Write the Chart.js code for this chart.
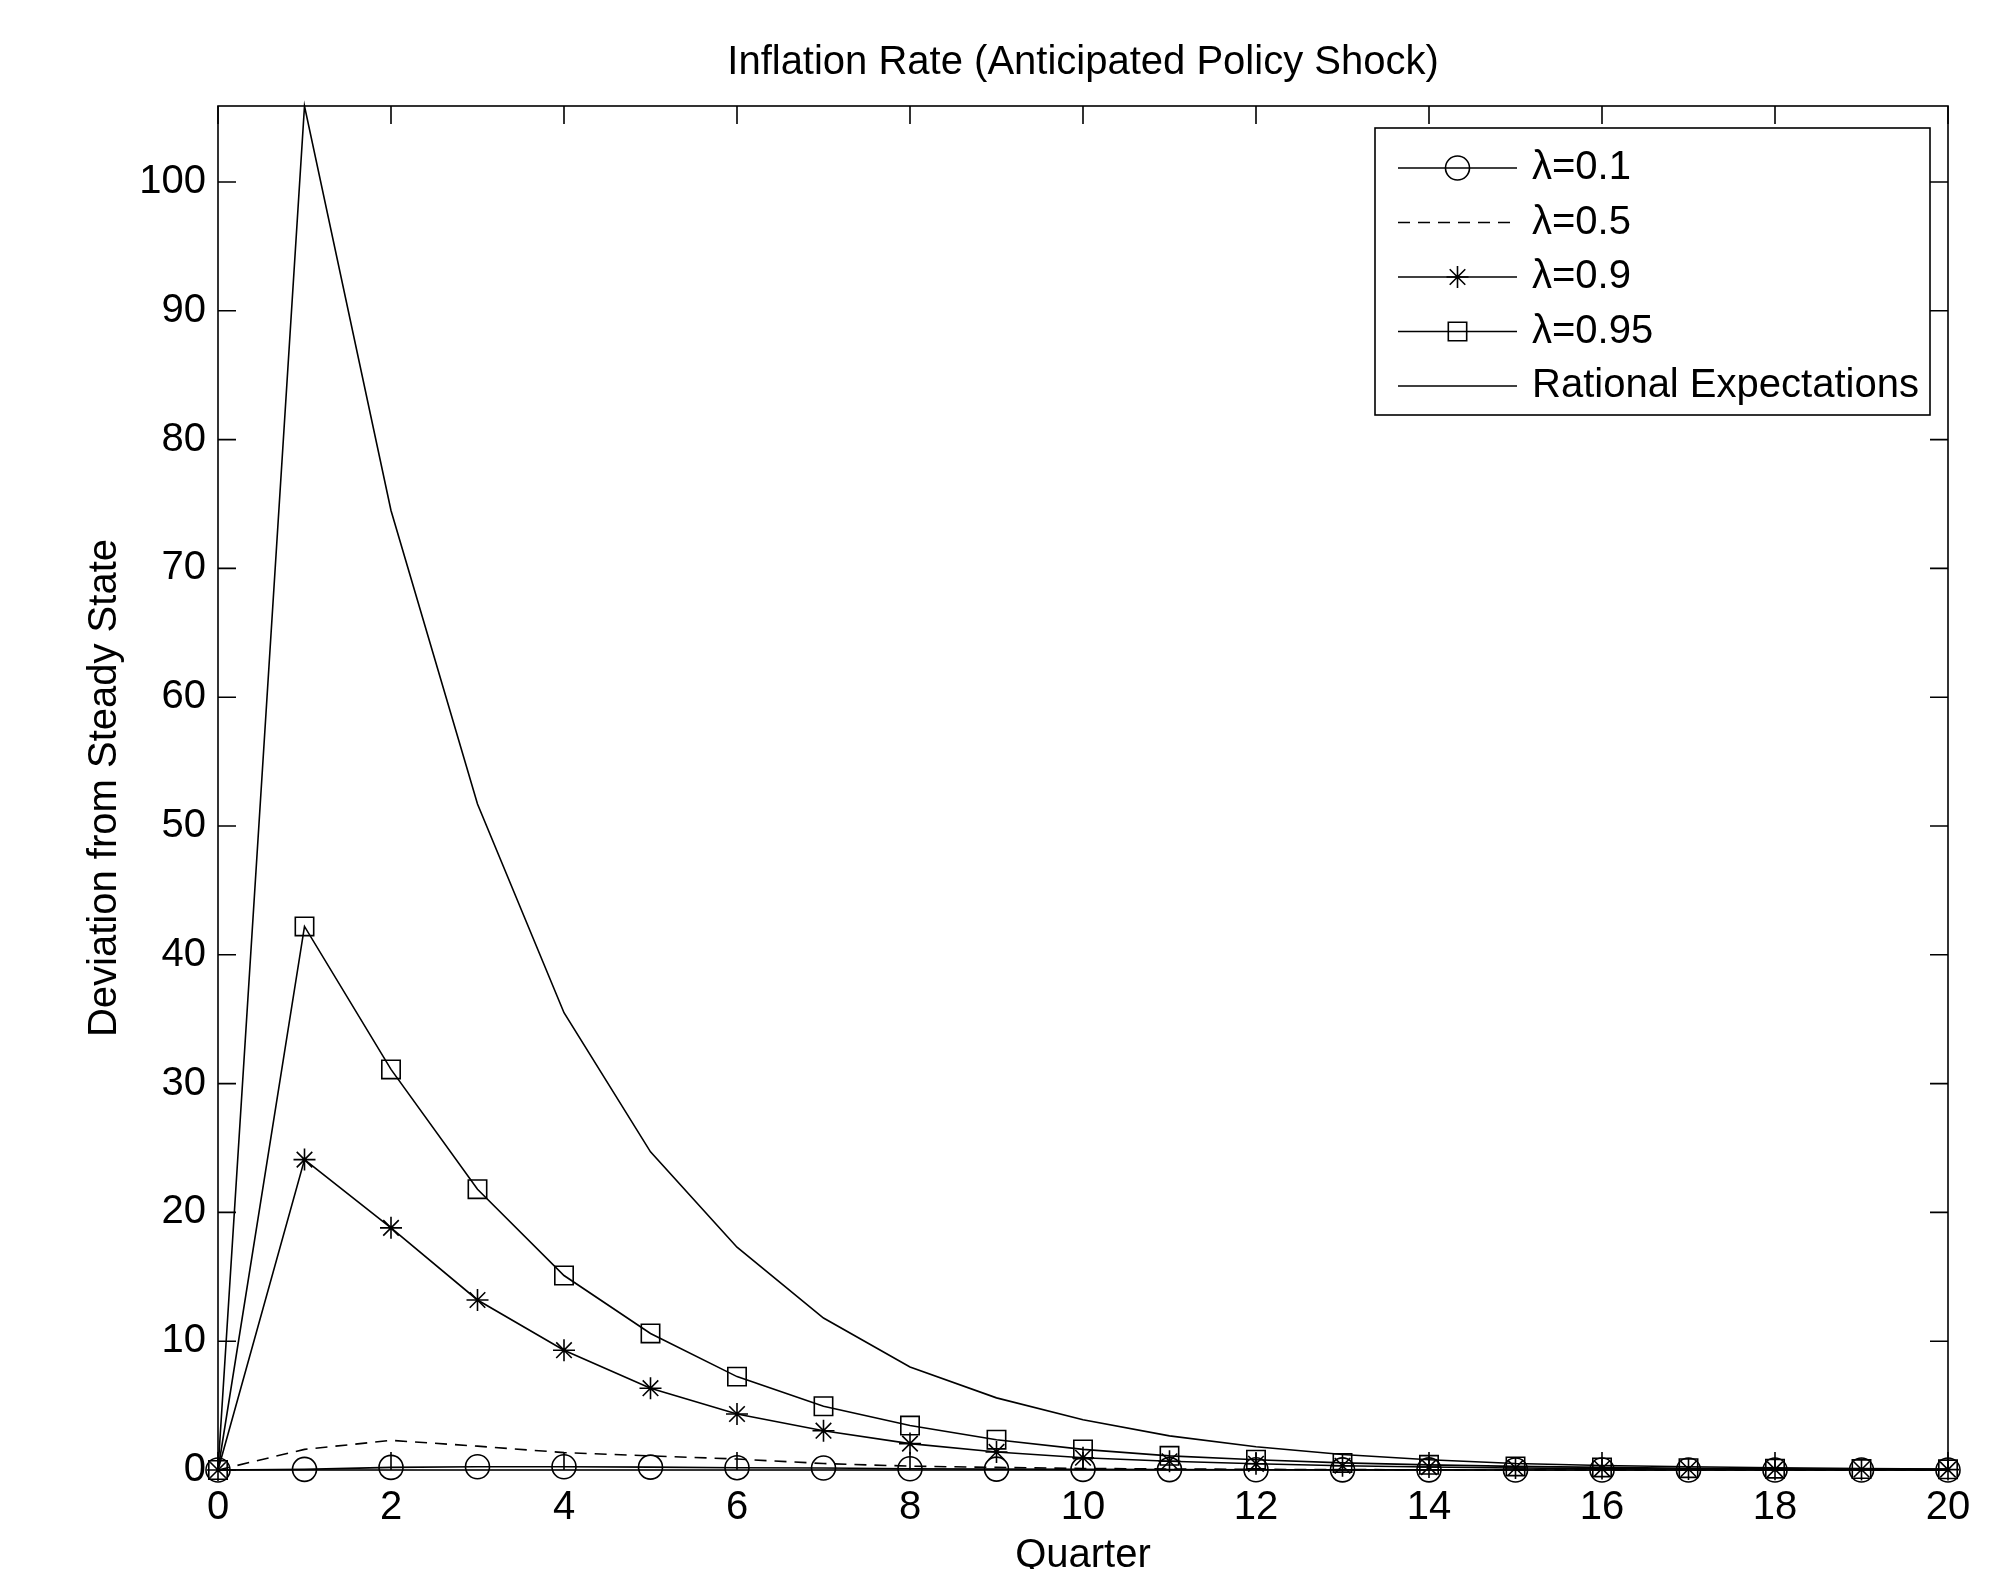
<!DOCTYPE html>
<html>
<head>
<meta charset="utf-8">
<title>Inflation Rate (Anticipated Policy Shock)</title>
<script src="https://cdn.jsdelivr.net/npm/chart.js@4.4.1/dist/chart.umd.min.js"></script>
<style>
    html, body { margin: 0; padding: 0; background: #fff; }
    #chart { display: block; }
</style>
</head>
<body>
<canvas id="chart" width="2002" height="1569"></canvas>
<script>
// quarters after the shock
const quarters = [0, 1, 2, 3, 4, 5, 6, 7, 8, 9, 10, 11, 12, 13, 14, 15, 16, 17, 18, 19, 20];

// deviation from steady state
const lambda01 = [0, 0.05, 0.2, 0.25, 0.25, 0.22, 0.18, 0.15, 0.1, 0.07, 0.05, 0.03, 0.02, 0.01, 0.01, 0, 0, 0, 0, 0, 0];
const lambda05 = [0, 1.6, 2.3, 1.85, 1.35, 1.1, 0.85, 0.5, 0.3, 0.2, 0.12, 0.08, 0.05, 0.03, 0.02, 0.01, 0.01, 0, 0, 0, 0];
const lambda09 = [0, 24.1, 18.8, 13.2, 9.3, 6.35, 4.35, 3.05, 2.05, 1.4, 0.95, 0.68, 0.48, 0.33, 0.23, 0.16, 0.11, 0.08, 0.05, 0.04, 0.03];
const lambda095 = [0, 42.2, 31.1, 21.8, 15.1, 10.6, 7.25, 4.95, 3.45, 2.35, 1.6, 1.1, 0.8, 0.55, 0.4, 0.28, 0.2, 0.14, 0.1, 0.07, 0.05];
const rationalExp = [0, 105.9, 74.5, 51.7, 35.5, 24.7, 17.3, 11.8, 8.0, 5.6, 3.9, 2.65, 1.8, 1.2, 0.8, 0.5, 0.35, 0.25, 0.17, 0.12, 0.08];

const seriesLabels = ['\u03bb=0.1', '\u03bb=0.5', '\u03bb=0.9', '\u03bb=0.95', 'Rational Expectations'];
const xTicks = { min: 0, max: 20, step: 2 };
const yTicks = { min: 0, step: 10 };

const FONT = "'Liberation Sans', Arial, Helvetica, sans-serif";
const FONT_SIZE = 40;

Chart.defaults.font.family = FONT;
Chart.defaults.color = '#000';

function toPoints(values) {
    return quarters.map((q, i) => ({ x: q, y: values[i] }));
}

function lineDataset(label, values, extra) {
    return Object.assign({
        label: label,
        data: toPoints(values),
        borderColor: '#000',
        borderWidth: 1.6,
        backgroundColor: 'rgba(0,0,0,0)',
        pointBackgroundColor: 'rgba(0,0,0,0)',
        pointBorderColor: '#000',
        pointBorderWidth: 1.6,
        pointRadius: 0,
        pointHoverRadius: 0,
        tension: 0,
        fill: false,
        clip: false
    }, extra);
}

// box round the axes with inward ticks on all four sides (MATLAB style)
const axesBox = {
    id: 'axesBox',
    afterDatasetsDraw(chart) {
        const { ctx, chartArea: a, scales } = chart;
        const len = 18;
        ctx.save();
        ctx.strokeStyle = '#000';
        ctx.lineWidth = 1.6;
        ctx.strokeRect(a.left, a.top, a.right - a.left, a.bottom - a.top);
        ctx.beginPath();
        scales.x.ticks.forEach(t => {
            const px = scales.x.getPixelForValue(t.value);
            ctx.moveTo(px, a.bottom); ctx.lineTo(px, a.bottom - len);
            ctx.moveTo(px, a.top); ctx.lineTo(px, a.top + len);
        });
        scales.y.ticks.forEach(t => {
            const py = scales.y.getPixelForValue(t.value);
            ctx.moveTo(a.left, py); ctx.lineTo(a.left + len, py);
            ctx.moveTo(a.right, py); ctx.lineTo(a.right - len, py);
        });
        ctx.stroke();
        ctx.restore();
    }
};

// legend drawn inside the axes, line sample with marker in the middle
const boxLegend = {
    id: 'boxLegend',
    afterDraw(chart) {
        const ctx = chart.ctx;
        const box = { left: 1375, top: 128, right: 1930, bottom: 415 };
        const rowTop = 168, rowGap = 54.5;
        const lineFrom = 1398, lineTo = 1517, textX = 1532;
        ctx.save();
        ctx.fillStyle = '#fff';
        ctx.fillRect(box.left, box.top, box.right - box.left, box.bottom - box.top);
        ctx.strokeStyle = '#000';
        ctx.lineWidth = 1.6;
        ctx.strokeRect(box.left, box.top, box.right - box.left, box.bottom - box.top);
        chart.data.datasets.forEach((ds, i) => {
            const y = rowTop + i * rowGap;
            ctx.save();
            ctx.strokeStyle = ds.borderColor;
            ctx.lineWidth = ds.borderWidth;
            ctx.setLineDash(ds.borderDash || []);
            ctx.beginPath();
            ctx.moveTo(lineFrom, y);
            ctx.lineTo(lineTo, y);
            ctx.stroke();
            ctx.restore();
            if (ds.pointRadius > 0) {
                ctx.save();
                ctx.strokeStyle = ds.pointBorderColor;
                ctx.fillStyle = ds.pointBackgroundColor;
                ctx.lineWidth = ds.pointBorderWidth;
                Chart.helpers.drawPoint(ctx, {
                    pointStyle: ds.pointStyle,
                    radius: ds.pointRadius,
                    rotation: 0,
                    borderWidth: ds.pointBorderWidth
                }, (lineFrom + lineTo) / 2, y);
                ctx.restore();
            }
            ctx.fillStyle = '#000';
            ctx.font = FONT_SIZE + 'px ' + FONT;
            ctx.textBaseline = 'middle';
            ctx.textAlign = 'left';
            ctx.fillText(ds.label, textX, y);
        });
        ctx.restore();
    }
};

new Chart(document.getElementById('chart').getContext('2d'), {
    type: 'line',
    data: {
        datasets: [
            lineDataset(seriesLabels[0], lambda01, { pointStyle: 'circle', pointRadius: 12 }),
            lineDataset(seriesLabels[1], lambda05, { borderDash: [12, 8] }),
            lineDataset(seriesLabels[2], lambda09, { pointStyle: 'star', pointRadius: 11 }),
            lineDataset(seriesLabels[3], lambda095, { pointStyle: 'rect', pointRadius: 13 }),
            lineDataset(seriesLabels[4], rationalExp, {})
        ]
    },
    options: {
        responsive: false,
        animation: false,
        devicePixelRatio: 1,
        layout: { padding: { left: 0, right: 54, top: 0, bottom: 0 } },
        plugins: {
            legend: { display: false },
            tooltip: { enabled: false },
            title: {
                display: true,
                fullSize: false,
                text: 'Inflation Rate (Anticipated Policy Shock)',
                color: '#000',
                font: { size: FONT_SIZE, weight: 'normal', lineHeight: 1 },
                padding: { top: 43, bottom: 23 }
            }
        },
        scales: {
            x: {
                type: 'linear',
                min: xTicks.min,
                max: xTicks.max,
                grid: { display: false, drawTicks: false },
                border: { display: false },
                ticks: { stepSize: xTicks.step, padding: 14, font: { size: FONT_SIZE }, color: '#000', maxRotation: 0 },
                title: {
                    display: true,
                    text: 'Quarter',
                    color: '#000',
                    font: { size: FONT_SIZE, lineHeight: 0.65 },
                    padding: { top: 0, bottom: 0 }
                },
                afterFit(scale) { scale.height = 99; }
            },
            y: {
                min: yTicks.min,
                max: Math.max(...rationalExp),
                grid: { display: false, drawTicks: false },
                border: { display: false },
                ticks: { stepSize: yTicks.step, includeBounds: false, padding: 12, font: { size: FONT_SIZE }, color: '#000' },
                title: {
                    display: true,
                    text: 'Deviation from Steady State',
                    color: '#000',
                    font: { size: FONT_SIZE, lineHeight: 1 },
                    padding: { top: 85, bottom: 0 }
                },
                afterFit(scale) { scale.width = 218; }
            }
        }
    },
    plugins: [axesBox, boxLegend]
});
</script>
</body>
</html>
